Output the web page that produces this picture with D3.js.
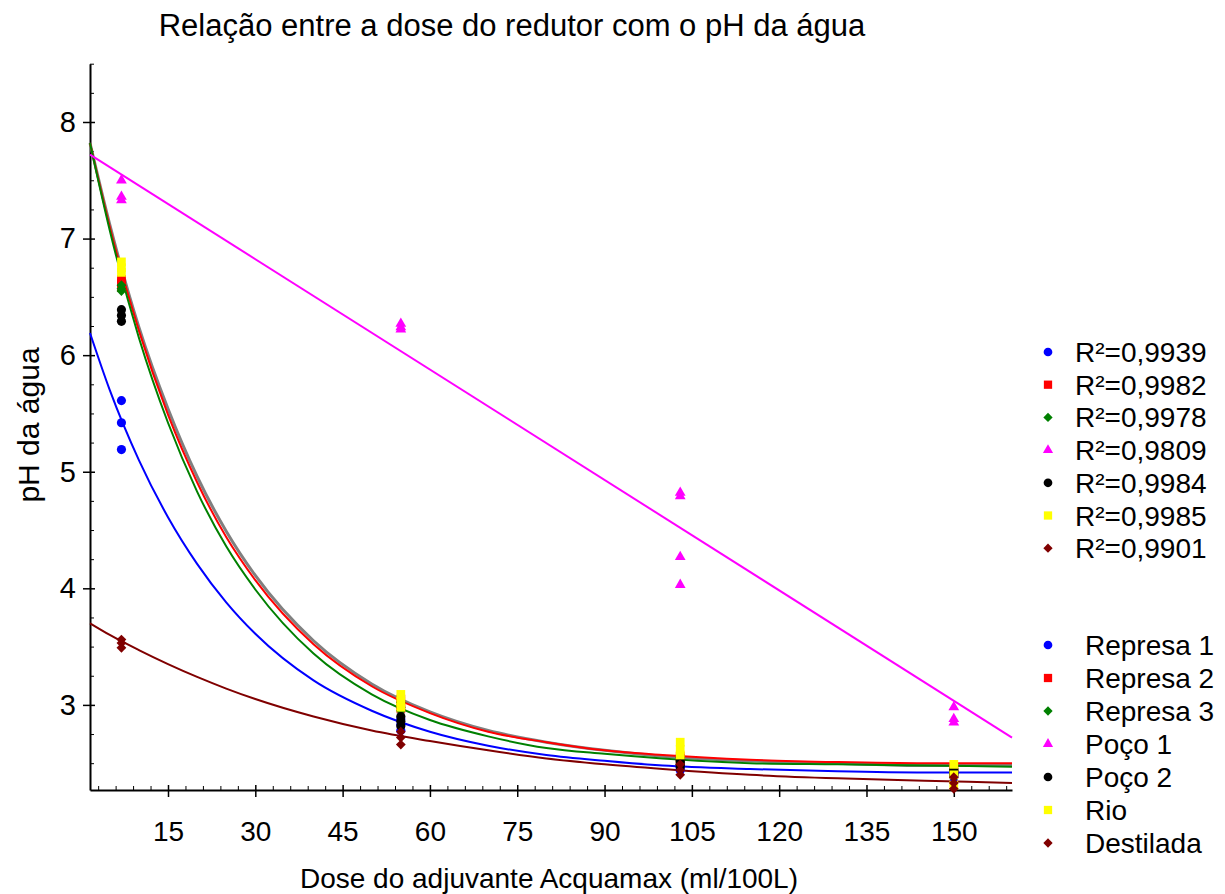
<!DOCTYPE html>
<html>
<head>
<meta charset="utf-8">
<script src="https://cdn.jsdelivr.net/npm/d3@7"></script>
<style>
  body { margin: 0; background: #fff; }
  text { font-family: "Liberation Sans", Arial, sans-serif; fill: #000; }
</style>
</head>
<body>
<script>

// doses where the samples were taken (ml/100L)
var doses = [7, 55, 103, 150];

// replicate pH readings, one inner array per dose
var represa1  = [[5.61, 5.42, 5.19], [2.88, 2.83, 2.78], [2.48, 2.46, 2.44], [2.42, 2.40, 2.38]];
var represa2  = [[6.65, 6.62, 6.58], [3.05, 3.00, 2.97], [2.56, 2.54, 2.52], [2.46, 2.44, 2.42]];
var represa3  = [[6.60, 6.57, 6.55], [3.02, 2.98, 2.95], [2.55, 2.53, 2.51], [2.45, 2.43, 2.41]];
var poco1     = [[7.50, 7.36, 7.33], [6.27, 6.24, 6.22], [4.82, 4.79, 4.27, 4.03], [2.98, 2.88, 2.85]];
var poco2     = [[6.39, 6.34, 6.29], [2.90, 2.86, 2.82], [2.52, 2.49, 2.47], [2.44, 2.41, 2.39]];
var rio       = [[6.80, 6.75, 6.71], [3.09, 3.03, 2.98], [2.68, 2.62, 2.57], [2.49, 2.40, 2.31]];
var destilada = [[3.56, 3.53, 3.49], [2.77, 2.72, 2.66], [2.49, 2.44, 2.40], [2.38, 2.33, 2.28]];

// fitted curves at these doses
var fitDoses     = [1.6, 5, 10, 15, 20, 25, 30, 40, 50, 60, 70, 80, 90, 100, 115, 130, 145, 160];
var fitRepresa1  = [6.19, 5.70, 5.10, 4.61, 4.21, 3.88, 3.61, 3.21, 2.95, 2.77, 2.65, 2.57, 2.52, 2.48, 2.45, 2.43, 2.42, 2.42];
var fitRepresa2  = [7.82, 7.10, 6.21, 5.49, 4.91, 4.44, 4.07, 3.52, 3.16, 2.93, 2.77, 2.68, 2.61, 2.57, 2.53, 2.51, 2.50, 2.50];
var fitRepresa3  = [7.82, 7.07, 6.15, 5.42, 4.83, 4.36, 3.99, 3.44, 3.09, 2.87, 2.73, 2.63, 2.58, 2.54, 2.50, 2.49, 2.48, 2.47];
var fitPoco2Rio  = [7.82, 7.12, 6.24, 5.54, 4.96, 4.49, 4.11, 3.55, 3.18, 2.94, 2.78, 2.68, 2.61, 2.56, 2.52, 2.50, 2.48, 2.48];
var fitDestilada = [3.70, 3.60, 3.47, 3.35, 3.24, 3.14, 3.05, 2.90, 2.78, 2.69, 2.61, 2.54, 2.49, 2.45, 2.40, 2.37, 2.35, 2.33];
var fitPoco1Doses = [1.6, 160];
var fitPoco1      = [7.72, 2.72];

// legend texts
var seriesNames = ["Represa 1", "Represa 2", "Represa 3", "Poço 1", "Poço 2", "Rio", "Destilada"];
var r2Labels = ["R²=0,9939", "R²=0,9982", "R²=0,9978", "R²=0,9809", "R²=0,9984", "R²=0,9985", "R²=0,9901"];

// axis ticks
var xMajorTicks = [15, 30, 45, 60, 75, 90, 105, 120, 135, 150];
var yMajorTicks = [3, 4, 5, 6, 7, 8];

// styles (kept apart from the data)
var seriesData = [represa1, represa2, represa3, poco1, poco2, rio, destilada];
var seriesColors = ["#0000ff", "#ff0000", "#008000", "#ff00ff", "#000000", "#ffff00", "#800000"];
var seriesShapes = ["circle", "square", "diamond", "triangle", "circle", "square", "diamond"];

var w = 1225, h = 894;

var svg = d3.select("body").append("svg")
    .attr("width", w)
    .attr("height", h);

// scales
var x = d3.scaleLinear().domain([1.6, 160]).range([90, 1012]);
var y = d3.scaleLinear().domain([2.27, 8.5]).range([790, 63.7]);

// minor ticks: every 3 on x, every 0.25 on y
var xMinorTicks = d3.range(3, 160, 3).filter(function(d){ return d % 15 != 0; });
var yMinorTicks = d3.range(2.5, 8.51, 0.25).filter(function(d){ return Math.abs(d - Math.round(d)) > 0.01; });

// x axis
var xAxisG = svg.append("g").attr("transform", "translate(0,790)");
xAxisG.call(d3.axisBottom(x).tickValues(xMajorTicks).tickFormat(d3.format("d"))
    .tickSizeInner(7).tickSizeOuter(0).tickPadding(24));
xAxisG.selectAll(".tick line").attr("y1", -5).attr("stroke-width", 1.5);
xAxisG.select(".domain").attr("stroke-width", 2);
xAxisG.selectAll("text").attr("font-size", 28).style("font-family", "Liberation Sans, Arial, sans-serif");

svg.append("g").attr("transform", "translate(0,790)")
    .call(d3.axisBottom(x).tickValues(xMinorTicks).tickSizeInner(-4).tickSizeOuter(0).tickFormat(""))
    .call(function(g){ g.select(".domain").remove(); });

// y axis
var yAxisG = svg.append("g").attr("transform", "translate(90,0)");
yAxisG.call(d3.axisLeft(y).tickValues(yMajorTicks).tickFormat(d3.format("d"))
    .tickSizeInner(7).tickSizeOuter(0).tickPadding(7));
yAxisG.selectAll(".tick line").attr("x1", 5).attr("stroke-width", 1.5);
yAxisG.select(".domain").attr("stroke-width", 2);
yAxisG.selectAll("text").attr("font-size", 29).style("font-family", "Liberation Sans, Arial, sans-serif");

svg.append("g").attr("transform", "translate(90,0)")
    .call(d3.axisLeft(y).tickValues(yMinorTicks).tickSizeInner(-4).tickSizeOuter(0).tickFormat(""))
    .call(function(g){ g.select(".domain").remove(); });

// fitted curves
var curveLine = d3.line()
    .x(function(d){ return x(d[0]); })
    .y(function(d){ return y(d[1]); })
    .curve(d3.curveMonotoneX);

var drawFit = function(xs, ys, color, width){
  svg.append("path")
      .datum(d3.zip(xs, ys))
      .attr("d", curveLine)
      .attr("fill", "none")
      .attr("stroke", color)
      .attr("stroke-width", width);
};

drawFit(fitDoses, fitPoco2Rio, "#808080", 3);
drawFit(fitDoses, fitRepresa2, "#ff0000", 2);
drawFit(fitDoses, fitRepresa3, "#008000", 2);
drawFit(fitDoses, fitRepresa1, "#0000ff", 2);
drawFit(fitDoses, fitDestilada, "#800000", 2);
drawFit(fitPoco1Doses, fitPoco1, "#ff00ff", 2);

// symbol path for a given shape
var symbolPath = function(shape, scale){
  if (shape == "circle")   return d3.symbol().type(d3.symbolCircle).size(66 * scale)();
  if (shape == "square")   return d3.symbol().type(d3.symbolSquare).size(76 * scale)();
  if (shape == "diamond")  return d3.symbol().type(d3.symbolSquare).size(48 * scale)();
  if (shape == "triangle") return d3.symbol().type(d3.symbolTriangle).size(50 * scale)();
};

// data points
seriesData.forEach(function(series, i){
  series.forEach(function(reps, j){
    reps.forEach(function(v){
      svg.append("path")
          .attr("d", symbolPath(seriesShapes[i], 1))
          .attr("transform", "translate(" + x(doses[j]) + "," + y(v) + ")" +
                (seriesShapes[i] == "diamond" ? " rotate(45)" : ""))
          .attr("fill", seriesColors[i]);
    });
  });
});

// legend: R² block then names block
var drawLegend = function(labels, y0, step, textX){
  labels.forEach(function(lab, i){
    var ly = y0 + i * step;
    svg.append("path")
        .attr("d", symbolPath(seriesShapes[i], 0.9))
        .attr("transform", "translate(1048," + ly + ")" + (seriesShapes[i] == "diamond" ? " rotate(45)" : ""))
        .attr("fill", seriesColors[i]);
    svg.append("text")
        .attr("x", textX)
        .attr("y", ly + 10)
        .attr("font-size", 28)
        .text(lab);
  });
};
drawLegend(r2Labels, 352, 32.7, 1075);
drawLegend(seriesNames, 645, 33, 1085);

// titles
svg.append("text")
    .attr("x", 512).attr("y", 36)
    .attr("text-anchor", "middle")
    .attr("font-size", 31)
    .text("Relação entre a dose do redutor com o pH da água");

svg.append("text")
    .attr("x", 549).attr("y", 888)
    .attr("text-anchor", "middle")
    .attr("font-size", 28)
    .text("Dose do adjuvante Acquamax (ml/100L)");

svg.append("text")
    .attr("transform", "translate(39,425) rotate(-90)")
    .attr("text-anchor", "middle")
    .attr("font-size", 30)
    .text("pH da água");

</script>
</body>
</html>
